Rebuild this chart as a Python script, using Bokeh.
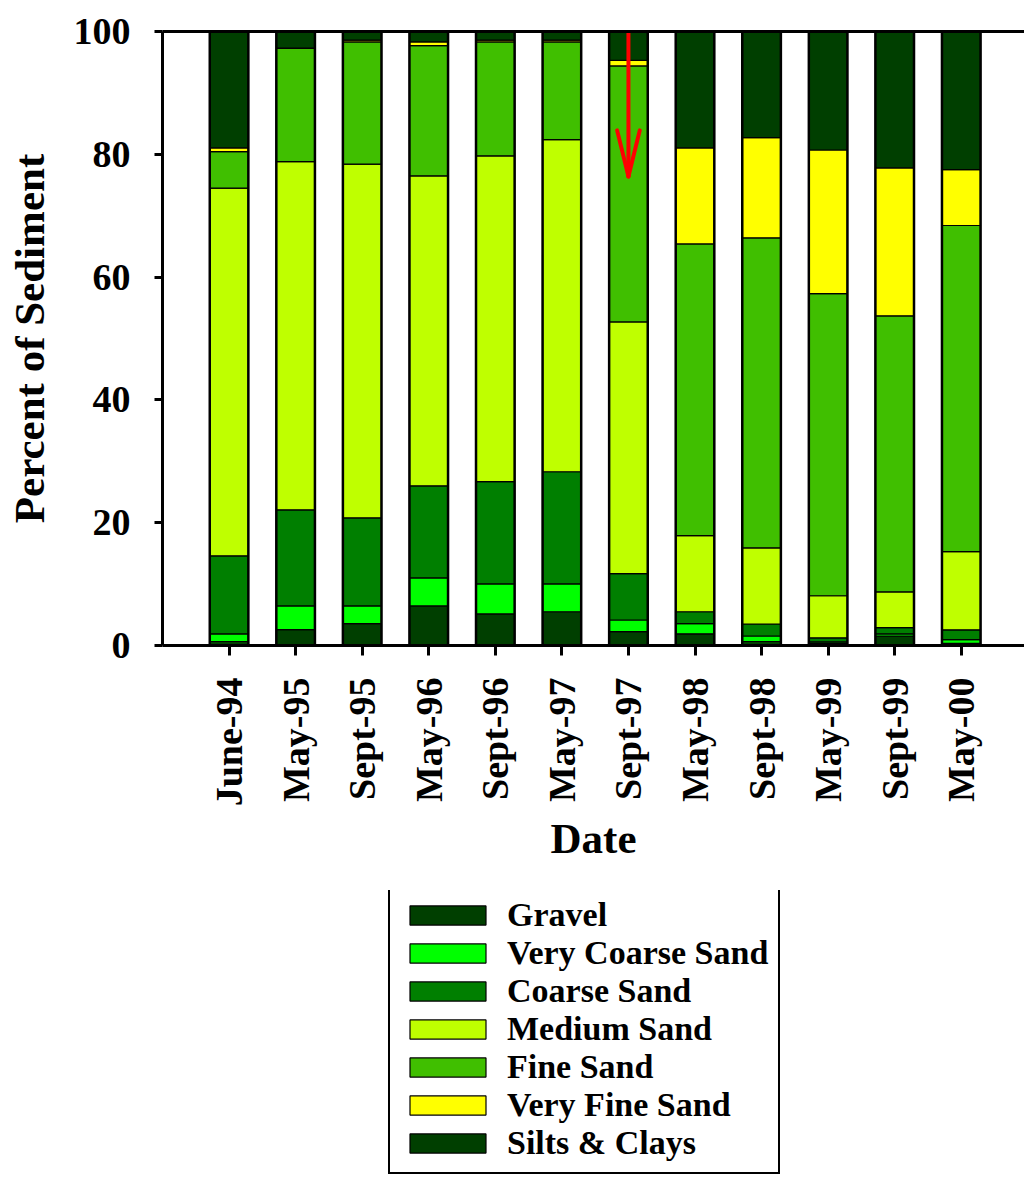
from bokeh.plotting import figure
from bokeh.models import (ColumnDataSource, Range1d, FixedTicker, LinearAxis,
                          Legend, LegendItem)
from bokeh.layouts import column
from bokeh.embed import file_html
from bokeh.resources import INLINE
import math

dates = ["June-94", "May-95", "Sept-95", "May-96", "Sept-96", "May-97",
         "Sept-97", "May-98", "Sept-98", "May-99", "Sept-99", "May-00"]

gravel      = [0.65, 2.6, 3.55, 6.45, 5.15, 5.5, 2.25, 1.9, 0.65, 0.35, 1.55, 0.35]
very_coarse = [1.25, 3.85, 2.9, 4.55, 4.9, 4.55, 1.9, 1.65, 0.9, 0.25, 0.35, 0.6]
coarse      = [12.7, 15.65, 14.35, 15.0, 16.65, 18.25, 7.55, 1.95, 1.95, 0.65, 1.0, 1.6]
medium      = [59.9, 56.7, 57.6, 50.5, 53.05, 54.1, 41.0, 12.4, 12.4, 6.85, 5.85, 12.75]
fine        = [5.95, 18.5, 19.9, 21.2, 18.55, 15.9, 41.7, 47.5, 50.5, 49.2, 44.95, 53.1]
very_fine   = [0.6, 0.0, 0.3, 0.6, 0.3, 0.3, 0.9, 15.65, 16.3, 23.4, 24.1, 9.1]
silts_clays = [18.95, 2.7, 1.4, 1.7, 1.4, 1.4, 4.7, 18.95, 17.3, 19.3, 22.2, 22.5]

series_names = ["Gravel", "Very Coarse Sand", "Coarse Sand", "Medium Sand",
                "Fine Sand", "Very Fine Sand", "Silts & Clays"]
series_values = [gravel, very_coarse, coarse, medium, fine, very_fine, silts_clays]
colors = ["#003F00", "#00FF00", "#007F00", "#BFFF00", "#40BF00", "#FFFF00", "#003F00"]

y_ticks = [0, 20, 40, 60, 80, 100]

# red arrow marking Sept-97
arrow_x = 6
arrow_top = 100
arrow_tip = 76.4
arrow_head_len = 7.5
arrow_head_half = 0.17

FONT = "Liberation Serif"

xs = list(range(len(dates)))
keys = ["s%d" % i for i in range(len(series_names))]
data = {"x": xs}
for k, v in zip(keys, series_values):
    data[k] = v
source = ColumnDataSource(data)
totals = [sum(vals) for vals in zip(*series_values)]

p = figure(width=1024, height=890,
           x_range=Range1d(-1, 11.95), y_range=Range1d(0, 100),
           output_backend="svg", toolbar_location=None,
           min_border_left=162, min_border_right=0, min_border_top=31,
           min_border_bottom=245)
p.outline_line_color = None
p.xgrid.visible = False
p.ygrid.visible = False

bar_w = 0.58
renderers = p.vbar_stack(keys, x="x", width=bar_w, color=colors,
                         line_color="black", line_width=1.2, source=source)
p.vbar(x=xs, top=totals, bottom=0, width=bar_w, fill_color=None,
       line_color="black", line_width=2.5)

# arrow
p.segment(x0=[arrow_x, arrow_x - arrow_head_half, arrow_x + arrow_head_half],
          y0=[arrow_top, arrow_tip + arrow_head_len, arrow_tip + arrow_head_len],
          x1=[arrow_x, arrow_x, arrow_x],
          y1=[arrow_tip, arrow_tip, arrow_tip],
          line_color="#FF0000", line_width=4, line_cap="round")

# axes
xa = p.xaxis[0]
xa.ticker = FixedTicker(ticks=xs)
xa.major_label_overrides = {i: d for i, d in enumerate(dates)}
xa.major_label_orientation = math.pi / 2
xa.minor_tick_line_color = None
xa.major_tick_out = 10
xa.major_tick_in = 0
xa.major_tick_line_width = 3
xa.axis_line_width = 3
xa.major_label_standoff = 22
xa.axis_label = "Date"
xa.axis_label_standoff = 6

ya = p.yaxis[0]
ya.ticker = FixedTicker(ticks=y_ticks)
ya.minor_tick_line_color = None
ya.major_tick_out = 8
ya.major_tick_in = 0
ya.major_tick_line_width = 3
ya.axis_line_width = 3
ya.major_label_standoff = 24
ya.axis_label = "Percent of Sediment"
ya.axis_label_standoff = 18

for ax in (xa, ya):
    ax.major_label_text_font = FONT
    ax.major_label_text_font_style = "bold"
    ax.major_label_text_font_size = "38px"
    ax.major_label_text_color = "black"
    ax.axis_label_text_font = FONT
    ax.axis_label_text_font_style = "bold"
    ax.axis_label_text_font_size = "43px"
    ax.axis_label_text_color = "black"
    ax.axis_line_color = "black"
    ax.major_tick_line_color = "black"

top_axis = LinearAxis(ticker=FixedTicker(ticks=[]), axis_line_width=3,
                      axis_line_color="black", major_tick_line_color=None,
                      minor_tick_line_color=None, major_label_text_font_size="0px")
p.add_layout(top_axis, "above")

# legend panel below the chart; its swatch renderers are tiny placeholders
# hidden behind the opaque legend box
q = figure(width=1024, height=286, output_backend="svg", toolbar_location=None,
           x_axis_type=None, y_axis_type=None,
           x_range=Range1d(0, 1), y_range=Range1d(0, 1),
           min_border_left=0, min_border_right=0, min_border_top=0,
           min_border_bottom=0)
q.outline_line_color = None
q.xgrid.visible = False
q.ygrid.visible = False
leg_renderers = [q.vbar(x=[0.5], top=[0.5], bottom=[0.499], width=0.001, color=c,
                        line_color="black", line_width=1.2) for c in colors]
items = [LegendItem(label=n, renderers=[r]) for n, r in zip(series_names, leg_renderers)]
legend = Legend(items=items, location=(226, 2), orientation="vertical",
                label_text_font=FONT, label_text_font_style="bold",
                label_text_font_size="34px", label_text_color="black",
                glyph_width=95, glyph_height=24, label_height=37,
                label_standoff=12, spacing=0, padding=10,
                background_fill_color="white", background_fill_alpha=1.0,
                border_line_color="black", border_line_width=2,
                border_line_alpha=1.0, margin=0)
q.add_layout(legend, "center")

open("out.html", "w").write(file_html(column(p, q), INLINE))
